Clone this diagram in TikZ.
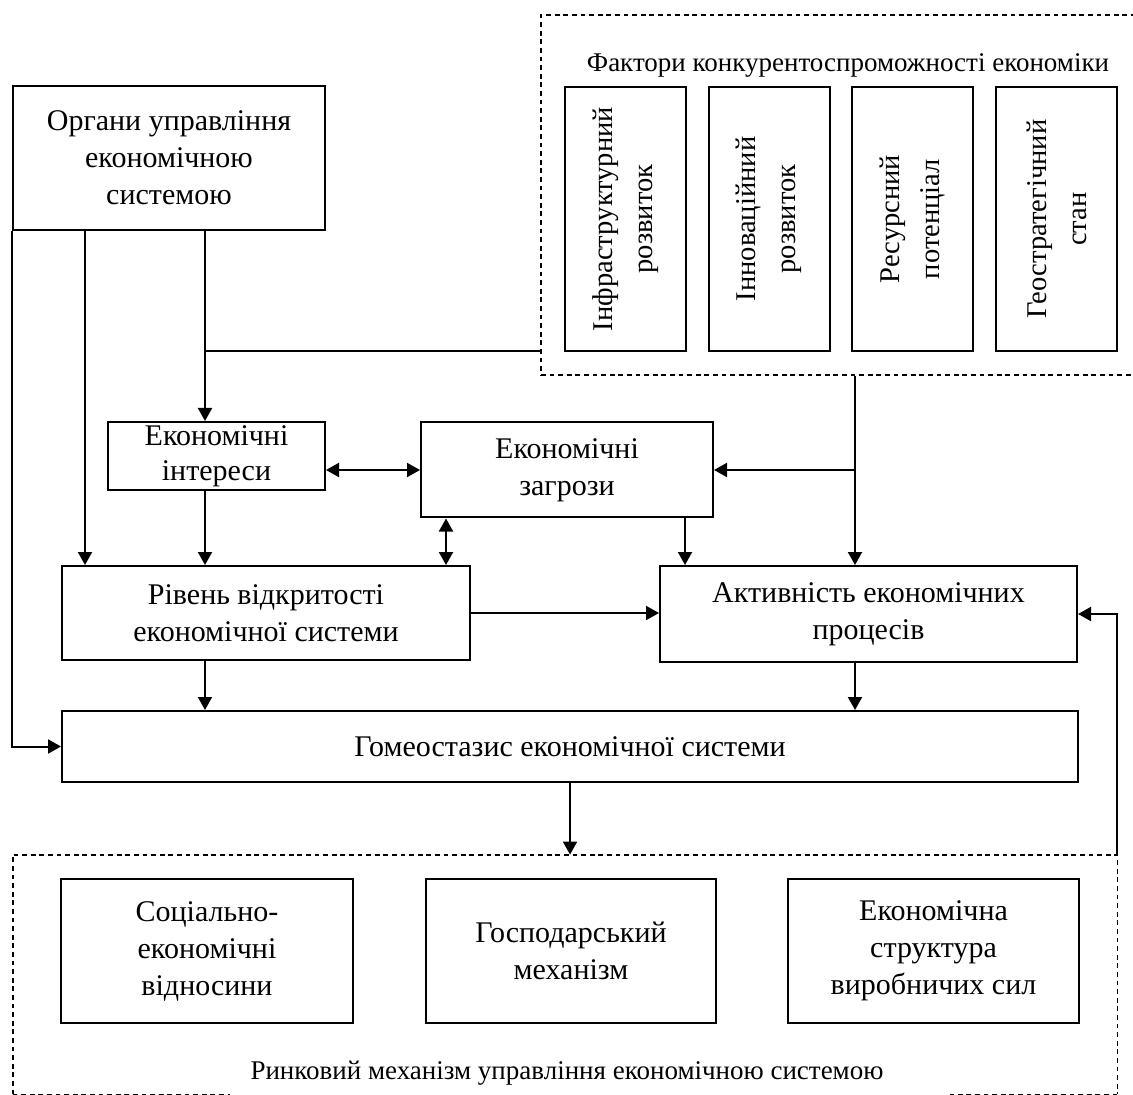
\documentclass[tikz,border=0pt]{standalone}
\usepackage{fontspec}
\setmainfont{Liberation Serif}
\usepackage{tikz}
\usetikzlibrary{arrows.meta, positioning, calc}

\begin{document}
\begin{tikzpicture}[
  x=0.5pt, y=-0.5pt,
  font=\fontsize{15}{18.5}\selectfont,
  block/.style = {draw, line width=1pt, inner sep=0pt, align=center},
  factor/.style = {block, rotate=90, minimum width=132pt, minimum height=60.5pt, font=\fontsize{14.3}{20}\selectfont},
  frame/.style = {line width=0.9pt, dash pattern=on 2.4pt off 1.9pt},
  caption/.style = {font=\fontsize{13.5}{16}\selectfont},
  arrow/.style = {line width=1pt, -{Triangle[length=6.5pt, width=7pt]}},
  dblarrow/.style = {line width=1pt, {Triangle[length=6.5pt, width=7pt]}-{Triangle[length=6.5pt, width=7pt]}},
  line/.style = {line width=1pt}
]
  \useasboundingbox (0,0) rectangle (1133,1095);

  % Factors of competitiveness
  \node[frame, draw, minimum width=299.5pt, minimum height=180pt] (fakt) at (840.5,195) {};
  \node[caption] (fakttitle) at (848,65) {Фактори конкурентоспроможності економіки};
  \node[factor] (infra) at (625.5,219) {Інфраструктурний\\розвиток};
  \node[factor] (innov) at (769,219) {Інноваційний\\розвиток};
  \node[factor] (resurs) at (912.5,219) {Ресурсний\\потенціал};
  \node[factor] (geo) at (1056.5,219) {Геостратегічний\\стан};

  % Main blocks
  \node[block, minimum width=156pt, minimum height=72pt] (organy) at (169,158) {Органи управління\\економічною\\системою};
  \node[block, minimum width=108.5pt, minimum height=34pt, font=\fontsize{15}{17.5}\selectfont] (interesy) at (216.5,456) {Економічні\\інтереси};
  \node[block, minimum width=146pt, minimum height=47.5pt] (zahrozy) at (567,470) {Економічні\\загрози};
  \node[block, minimum width=204pt, minimum height=47pt] (riven) at (266,613) {Рівень відкритості\\економічної системи};
  \node[block, minimum width=208.5pt, minimum height=48pt] (aktyvn) at (868.5,614) {Активність економічних\\процесів};
  \node[block, minimum width=508pt, minimum height=35.5pt] (homeo) at (570,746.5) {Гомеостазис економічної системи};

  % Market mechanism
  \node[minimum width=552pt, minimum height=119.5pt, inner sep=0pt] (rynok) at (565,974.5) {};
  \node[block, minimum width=146pt, minimum height=72pt] (social) at (207,951) {Соціально-\\економічні\\відносини};
  \node[block, minimum width=145pt, minimum height=72pt] (hosp) at (571,951) {Господарський\\механізм};
  \node[block, minimum width=145.5pt, minimum height=72pt] (struct) at (933.5,951) {Економічна\\структура\\виробничих сил};
  \node[caption] (rynoktitle) at (567,1073) {Ринковий механізм управління економічною системою};
  \draw[frame] (rynok.south west) -- (rynok.north west) -- (rynok.north east) -- (rynok.south east);
  \draw[frame] (rynok.south west) -- ++(217,0);
  \draw[frame] (rynok.south east) -- ++(-167,0);

  % trunk positions
  \coordinate (xl) at (85,0);
  \coordinate (xm) at (205,0);
  \coordinate (xa) at (446,0);
  \coordinate (xb) at (685,0);
  \coordinate (xr) at (855,0);
  \coordinate (yj) at (0,351);

  % Connectors
  \draw[arrow] (organy.south -| xl) -- (riven.north -| xl);
  \draw[arrow] (organy.south -| xm) -- (interesy.north -| xm);
  \draw[line] (xm |- yj) -- (fakt.west |- yj);
  \draw[arrow] (organy.south west) |- (homeo.west);
  \draw[dblarrow] (interesy.east |- zahrozy.west) -- (zahrozy.west);
  \draw[arrow] (fakt.south -| xr) -- (aktyvn.north -| xr);
  \draw[arrow] (zahrozy.east -| xr) -- (zahrozy.east);
  \draw[dblarrow] (zahrozy.south -| xa) -- (riven.north -| xa);
  \draw[arrow] (zahrozy.south -| xb) -- (aktyvn.north -| xb);
  \draw[arrow] (interesy.south -| xm) -- (riven.north -| xm);
  \draw[arrow] (riven.east) -- (riven.east -| aktyvn.west);
  \draw[arrow] (riven.south -| xm) -- (homeo.north -| xm);
  \draw[arrow] (aktyvn.south -| xr) -- (homeo.north -| xr);
  \draw[arrow] (homeo.south) -- (rynok.north -| homeo.south);
  \draw[arrow] (rynok.north east) |- (aktyvn.east);

\end{tikzpicture}
\end{document}
